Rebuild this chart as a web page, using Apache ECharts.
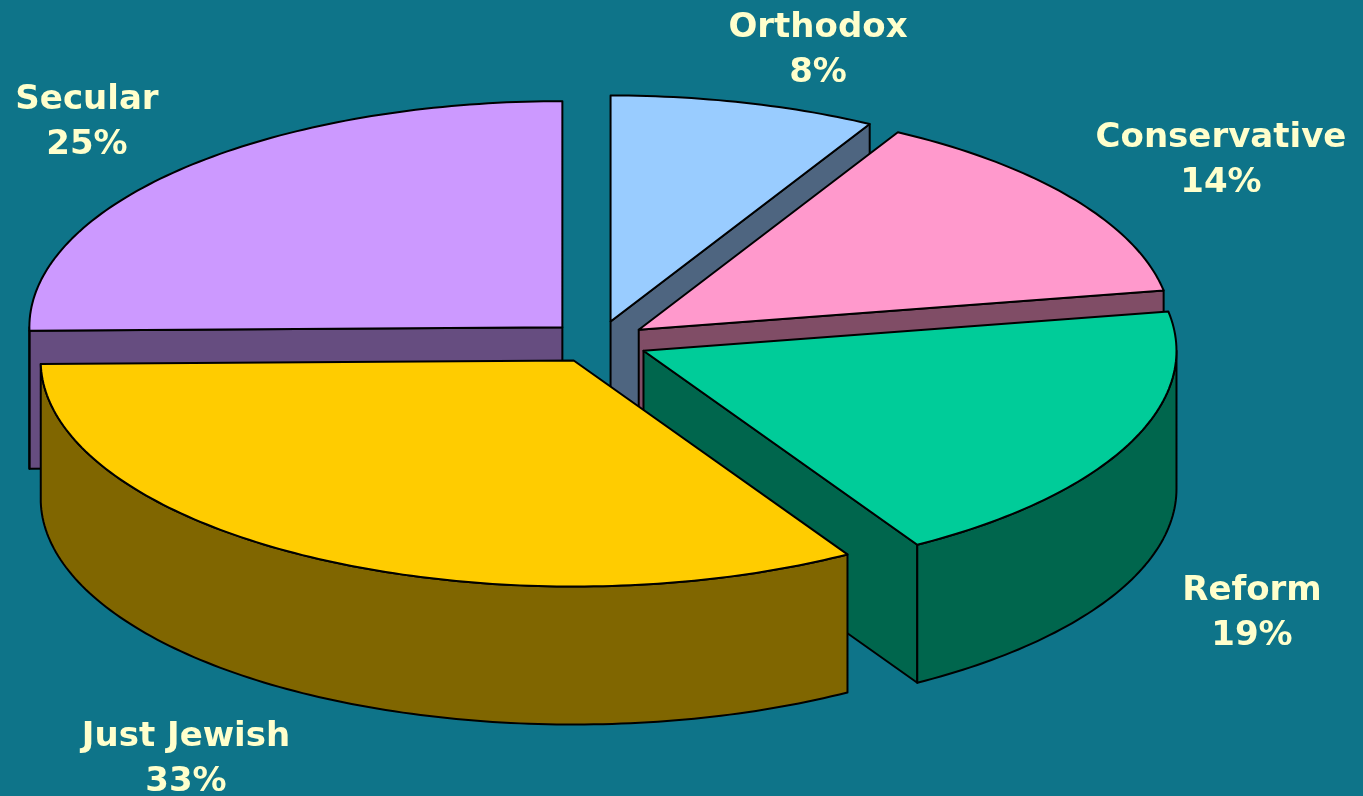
<!DOCTYPE html>
<html>
<head>
<meta charset="utf-8">
<script src="https://cdn.jsdelivr.net/npm/echarts@6/dist/echarts.min.js"></script>
<style>
html,body{margin:0;padding:0;background:#0E7489;}
#chart{width:1363px;height:796px;}
</style>
</head>
<body>
<div id="chart"></div>
<script>
// ---- data ----
const categories = ['Orthodox', 'Conservative', 'Reform', 'Just Jewish', 'Secular'];
const shares = [8, 14, 19, 33, 25];

// ---- styles / layout (kept separate from data) ----
const topColors = ['#99CCFF', '#FF99CC', '#00CC99', '#FFCC00', '#CC99FF'];
const sideColors = ['#4E6580', '#804D66', '#00664D', '#806600', '#664D80'];
const labelPos = [[818, 51], [1221, 161], [1252, 614], [186, 760], [87, 123]];
const geo = { cx: 598, cy: 342, rx: 533, ry: 226, h: 138, d: 50 };

const chart = echarts.init(document.getElementById('chart'), null, { renderer: 'canvas' });

function renderItem(params, api) {
  const i = params.dataIndex;
  const v = api.value(0);
  const total = shares.reduce((a, b) => a + b, 0);
  let before = 0;
  for (let k = 0; k < i; k++) before += shares[k];
  const a0 = before / total * 360;
  const a1 = (before + v) / total * 360;
  const mid = (a0 + a1) / 2 * Math.PI / 180;
  const cx = geo.cx + geo.d * Math.sin(mid);
  const cy = geo.cy - geo.d * (geo.ry / geo.rx) * Math.cos(mid);
  const P = (deg, dy) => {
    const t = deg * Math.PI / 180;
    return [cx + geo.rx * Math.sin(t), cy - geo.ry * Math.cos(t) + (dy || 0)];
  };
  const arc = (s, e, dy) => {
    const pts = [];
    const n = Math.max(2, Math.ceil((e - s) / 1));
    for (let k = 0; k <= n; k++) pts.push(P(s + (e - s) * k / n, dy));
    return pts;
  };
  const line = { stroke: '#000', lineWidth: 2, lineJoin: 'round' };
  const children = [];

  // top face
  children.push({
    type: 'polygon', z2: 5000,
    shape: { points: [[cx, cy]].concat(arc(a0, a1)) },
    style: Object.assign({ fill: topColors[i] }, line)
  });

  // outer wall (front half only)
  const b0 = Math.max(a0, 90), b1 = Math.min(a1, 270);
  if (b1 > b0) {
    const t = arc(b0, b1), b = arc(b0, b1, geo.h).reverse();
    children.push({
      type: 'polygon', z2: P((b0 + b1) / 2)[1],
      shape: { points: t.concat(b) },
      style: Object.assign({ fill: sideColors[i] }, line)
    });
  }

  // radial cut faces
  const face = (deg) => {
    const p = P(deg), q = P(deg, geo.h);
    return {
      type: 'polygon', z2: (cy + p[1]) / 2,
      shape: { points: [[cx, cy], p, q, [cx, cy + geo.h]] },
      style: Object.assign({ fill: sideColors[i] }, line)
    };
  };
  if (Math.sin(a0 * Math.PI / 180) < -1e-6) children.push(face(a0));
  if (Math.sin(a1 * Math.PI / 180) > 1e-6) children.push(face(a1));

  // label
  children.push({
    type: 'text', z2: 9000,
    style: {
      text: categories[i] + '\n' + v + '%',
      x: labelPos[i][0], y: labelPos[i][1],
      align: 'center', verticalAlign: 'middle',
      fill: '#FFFFCC',
      fontFamily: 'DejaVu Sans', fontWeight: 'bold', fontSize: 34,
      lineHeight: 45
    }
  });

  return { type: 'group', children: children };
}

chart.setOption({
  backgroundColor: '#0E7489',
  animation: false,
  series: [{
    type: 'custom',
    coordinateSystem: 'none',
    renderItem: renderItem,
    data: categories.map((c, k) => ({ name: c, value: [shares[k]] }))
  }]
});
</script>
</body>
</html>
